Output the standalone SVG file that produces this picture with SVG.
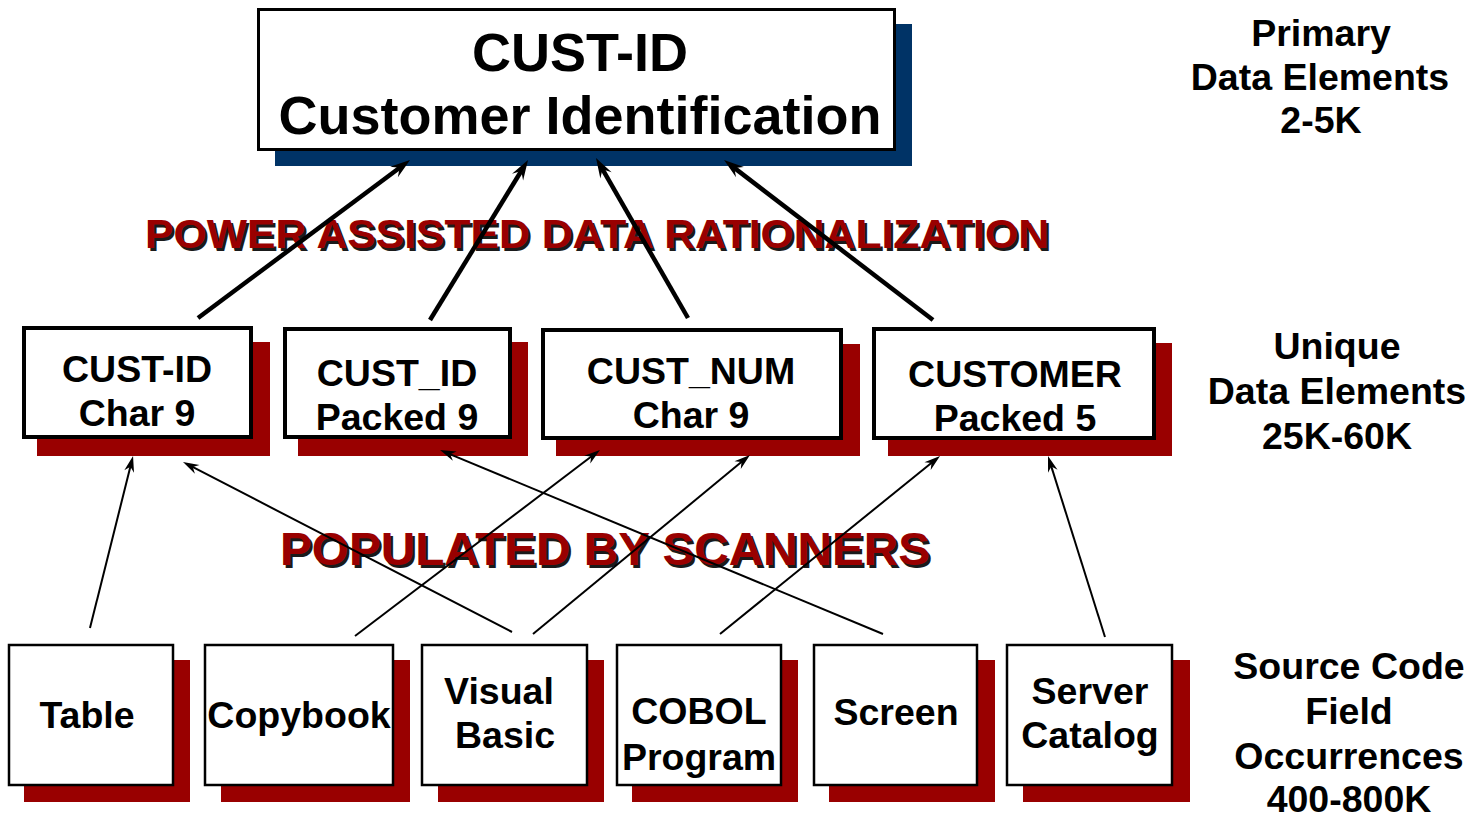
<svg xmlns="http://www.w3.org/2000/svg" width="1476" height="814" viewBox="0 0 1476 814">
<style>
text{font-family:"Liberation Sans",Arial,sans-serif;font-weight:bold;fill:#000;text-anchor:middle}
.big{font-size:54px}
.t{font-size:37.5px}
.box{fill:#fff;stroke:#000}
.mid{stroke-width:4}
.bot{stroke-width:2.5}
.sh{fill:#990000}
.red{fill:#990000;text-anchor:start}
.rsh{fill:#1a1a1a;text-anchor:start}
.thick{stroke:#000;stroke-width:4.5;fill:none}
.thin{stroke:#000;stroke-width:2;fill:none}
</style>
<defs>
<marker id="ahT" markerUnits="userSpaceOnUse" viewBox="-12 -8 24 16" refX="0" refY="0" markerWidth="24" markerHeight="16" orient="auto" overflow="visible">
<path d="M10,0 L-10,-6.5 L-3,0 L-10,6.5 Z" fill="#000"/>
</marker>
<marker id="ahS" markerUnits="userSpaceOnUse" viewBox="-10 -6 20 12" refX="0" refY="0" markerWidth="20" markerHeight="12" orient="auto" overflow="visible">
<path d="M8,0 L-8,-5 L-3,0 L-8,5 Z" fill="#000"/>
</marker>
</defs>
<rect width="1476" height="814" fill="#fff"/>

<g id="top">
<rect x="275" y="24" width="637" height="142" fill="#003366"/>
<rect class="box" x="258.5" y="9.5" width="636" height="140" stroke-width="3"/>
<text class="big" x="580" y="71">CUST-ID</text>
<text class="big" x="580" y="134">Customer Identification</text>
</g>

<g id="mid1">
<rect class="sh" x="37" y="342" width="233" height="114"/>
<rect class="box mid" x="24" y="328" width="227" height="109"/>
<text class="t" x="137" y="382">CUST-ID</text>
<text class="t" x="137" y="426">Char 9</text>
</g>
<g id="mid2">
<rect class="sh" x="298" y="342" width="230" height="114"/>
<rect class="box mid" x="285" y="329" width="225" height="108"/>
<text class="t" x="397" y="386">CUST_ID</text>
<text class="t" x="397" y="430">Packed 9</text>
</g>
<g id="mid3">
<rect class="sh" x="556" y="344" width="304" height="112"/>
<rect class="box mid" x="543" y="330" width="298" height="108"/>
<text class="t" x="691" y="384">CUST_NUM</text>
<text class="t" x="691" y="428">Char 9</text>
</g>
<g id="mid4">
<rect class="sh" x="888" y="343" width="284" height="113"/>
<rect class="box mid" x="874" y="329" width="280" height="109"/>
<text class="t" x="1015" y="387">CUSTOMER</text>
<text class="t" x="1015" y="431">Packed 5</text>
</g>

<g id="src-table">
<rect class="sh" x="24" y="660" width="166" height="142"/>
<rect class="box bot" x="9" y="645" width="164" height="140"/>
<text class="t" x="87" y="728">Table</text>
</g>
<g id="src-copybook">
<rect class="sh" x="221" y="660" width="189" height="142"/>
<rect class="box bot" x="205" y="645" width="188" height="140"/>
<text class="t" x="299" y="728">Copybook</text>
</g>
<g id="src-vb">
<rect class="sh" x="438" y="660" width="166" height="142"/>
<rect class="box bot" x="422" y="645" width="165" height="140"/>
<text class="t" x="499" y="704">Visual</text>
<text class="t" x="505" y="748">Basic</text>
</g>
<g id="src-cobol">
<rect class="sh" x="632" y="660" width="166" height="142"/>
<rect class="box bot" x="617" y="645" width="164" height="140"/>
<text class="t" x="699" y="724">COBOL</text>
<text class="t" x="699" y="770">Program</text>
</g>
<g id="src-screen">
<rect class="sh" x="829" y="660" width="166" height="142"/>
<rect class="box bot" x="814" y="645" width="163" height="140"/>
<text class="t" x="896" y="725">Screen</text>
</g>
<g id="src-server">
<rect class="sh" x="1023" y="660" width="167" height="142"/>
<rect class="box bot" x="1007" y="645" width="165" height="140"/>
<text class="t" x="1090" y="704">Server</text>
<text class="t" x="1090" y="748">Catalog</text>
</g>

<g id="labels">
<text class="t" x="1321" y="46">Primary</text>
<text class="t" x="1320" y="90">Data Elements</text>
<text class="t" x="1321" y="133">2-5K</text>
<text class="t" x="1337" y="359">Unique</text>
<text class="t" x="1337" y="404">Data Elements</text>
<text class="t" x="1337" y="449">25K-60K</text>
<text class="t" x="1349" y="679">Source Code</text>
<text class="t" x="1349" y="724">Field</text>
<text class="t" x="1349" y="769">Occurrences</text>
<text class="t" x="1349" y="812">400-800K</text>
</g>

<g id="banners">
<text class="rsh" x="147.5" y="250.5" font-size="41" textLength="904" lengthAdjust="spacingAndGlyphs">POWER ASSISTED DATA RATIONALIZATION</text>
<text class="red" x="145" y="248" font-size="41" textLength="904" lengthAdjust="spacingAndGlyphs">POWER ASSISTED DATA RATIONALIZATION</text>
<text class="rsh" x="282.5" y="567.5" font-size="47" textLength="650" lengthAdjust="spacingAndGlyphs">POPULATED BY SCANNERS</text>
<text class="red" x="280" y="565" font-size="47" textLength="650" lengthAdjust="spacingAndGlyphs">POPULATED BY SCANNERS</text>
</g>

<g id="connectors">
<line class="thick" x1="198" y1="318" x2="402" y2="166" marker-end="url(#ahT)"/>
<line class="thick" x1="430" y1="320" x2="522.8" y2="168.5" marker-end="url(#ahT)"/>
<line class="thick" x1="688" y1="318" x2="601" y2="166.7" marker-end="url(#ahT)"/>
<line class="thick" x1="933" y1="320" x2="732" y2="166.1" marker-end="url(#ahT)"/>
<line class="thin" x1="90" y1="628" x2="131.1" y2="463.8" marker-end="url(#ahS)"/>
<line class="thin" x1="512" y1="632" x2="190.1" y2="465.7" marker-end="url(#ahS)"/>
<line class="thin" x1="355" y1="636" x2="593.6" y2="454.8" marker-end="url(#ahS)"/>
<line class="thin" x1="883" y1="634" x2="447.4" y2="453.1" marker-end="url(#ahS)"/>
<line class="thin" x1="533" y1="634" x2="743.8" y2="460.1" marker-end="url(#ahS)"/>
<line class="thin" x1="720" y1="634" x2="933.8" y2="461" marker-end="url(#ahS)"/>
<line class="thin" x1="1105" y1="637" x2="1050.4" y2="463.6" marker-end="url(#ahS)"/>
</g>
</svg>
